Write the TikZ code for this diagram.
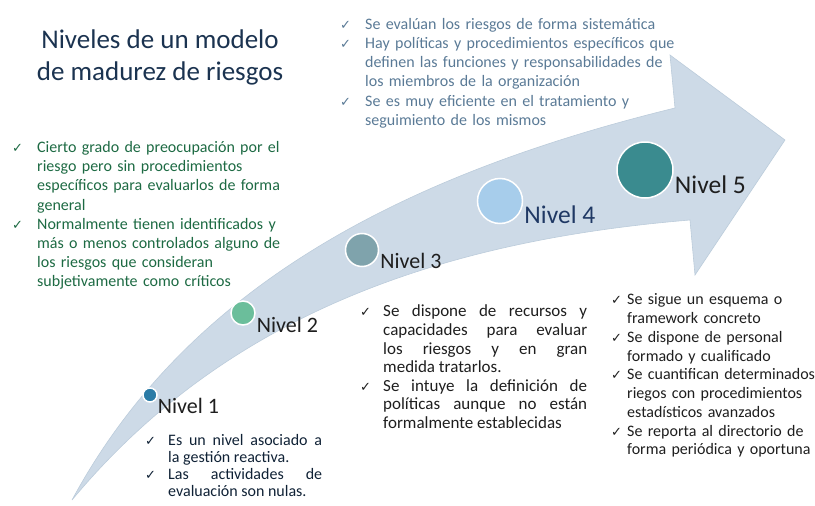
\documentclass[tikz,border=0pt]{standalone}
\usepackage{fontspec}
\setmainfont{Carlito}
\newfontfamily\chkfont{DejaVu Sans}
\usepackage{tikz}
\usetikzlibrary{positioning}
\definecolor{arrowblue}{HTML}{CDDAE7}
\definecolor{arrowedge}{HTML}{BCCCDB}
\definecolor{lvlone}{HTML}{2A7BA6}
\definecolor{lvltwo}{HTML}{6BBE9B}
\definecolor{lvlthree}{HTML}{7FA3AC}
\definecolor{lvlfour}{HTML}{A7CDEB}
\definecolor{lvlfive}{HTML}{3A8B8F}
\definecolor{titlenavy}{HTML}{1B3350}
\definecolor{topblue}{HTML}{5A7A96}
\definecolor{greendark}{HTML}{1D6A43}
\definecolor{navyfour}{HTML}{1F3864}
\definecolor{darknavy}{HTML}{0F2135}
\definecolor{textdark}{HTML}{1E1E1E}
\hyphenpenalty=10000
\exhyphenpenalty=10000
\newcommand{\chk}[1][25pt]{\par\hangindent=#1\hangafter=1\noindent\makebox[#1][l]{\chkfont\fontsize{13}{13}\selectfont ✓}}

\begin{document}
\begin{tikzpicture}[x=1pt,y=-1pt,
  node distance=1pt,
  lvl/.style={circle,draw=white,line width=1.5pt,inner sep=0pt},
  nivel/.style={inner sep=0pt,font=\fontsize{22}{22}\selectfont,text=textdark},
  bignivel/.style={nivel,font=\fontsize{25.5}{25.5}\selectfont},
  notes/.style={inner sep=0pt,anchor=north west,align=left,font=\fontsize{16}{19.2}\selectfont}
]
\useasboundingbox (0,0) rectangle (815,506);
% curved arrow
\filldraw[fill=arrowblue,draw=arrowedge,line width=0.6pt]
  (72,500) .. controls (180,300) and (380,180) .. (675,108)
  -- (670,55) -- (785,140) -- (695,275) -- (690,220)
  .. controls (450,240) and (230,310) .. (72,500) -- cycle;

\node[align=center,inner sep=0pt,anchor=north,font=\fontsize{27}{32}\selectfont,text=titlenavy]
  (title) at (160,30) {Niveles de un modelo\\de madurez de riesgos};

% levels
\node[lvl,fill=lvlone,minimum size=14pt] (n1) at (150,395) {};
\node[lvl,fill=lvltwo,minimum size=24pt] (n2) at (243,313) {};
\node[lvl,fill=lvlthree,minimum size=33pt] (n3) at (362,250) {};
\node[lvl,fill=lvlfour,minimum size=45pt] (n4) at (500,201) {};
\node[lvl,fill=lvlfive,minimum size=56pt] (n5) at (645,170) {};

\node[nivel,base right=0pt of n1,yshift=-18pt] (l1) {Nivel 1};
\node[nivel,base right=1pt of n2,yshift=-19pt] (l2) {Nivel 2};
\node[nivel,base right=1pt of n3,yshift=-18pt] (l3) {Nivel 3};
\node[bignivel,text=navyfour,base right=1pt of n4,yshift=-22pt] (l4) {Nivel 4};
\node[bignivel,base right=1pt of n5,yshift=-23pt] (l5) {Nivel 5};

% notes
\node[notes,text=topblue,text width=340pt] (top) at (340,10) {%
\chk Se evalúan los riesgos de forma sistemática
\chk Hay políticas y procedimientos específicos que\newline definen las funciones y responsabilidades de\newline los miembros de la organización
\chk Se es muy eficiente en el tratamiento y\newline seguimiento de los mismos\par};

\node[notes,text=greendark,text width=300pt] (left) at (12,133) {%
\chk Cierto grado de preocupación por el\newline riesgo pero sin procedimientos\newline específicos para evaluarlos de forma\newline general
\chk Normalmente tienen identificados y\newline más o menos controlados alguno de\newline los riesgos que consideran\newline subjetivamente como críticos\par};

\node[notes,align=justify,text=darknavy,text width=177pt,font=\fontsize{16}{17}\selectfont]
  (one) at (145,428) {%
\chk[23pt]Es un nivel asociado a\linebreak la gestión reactiva.
\chk[23pt]Las actividades de\linebreak evaluación son nulas.\par};

\node[notes,align=justify,text=textdark,text width=227pt,font=\fontsize{17}{18.6}\selectfont]
  (three) at (360,298) {%
\chk[23pt]Se dispone de recursos y\linebreak capacidades para evaluar\linebreak los riesgos y en gran\linebreak medida tratarlos.
\chk[23pt]Se intuye la definición de\linebreak políticas aunque no están\linebreak formalmente establecidas\par};

\node[notes,text=textdark,text width=205pt,font=\fontsize{16}{18.75}\selectfont]
  (five) at (611,286) {%
\chk[16pt]Se sigue un esquema o\newline framework concreto
\chk[16pt]Se dispone de personal\newline formado y cualificado
\chk[16pt]Se cuantifican determinados\newline riegos con procedimientos\newline estadísticos avanzados
\chk[16pt]Se reporta al directorio de\newline forma periódica y oportuna\par};
\end{tikzpicture}
\end{document}
